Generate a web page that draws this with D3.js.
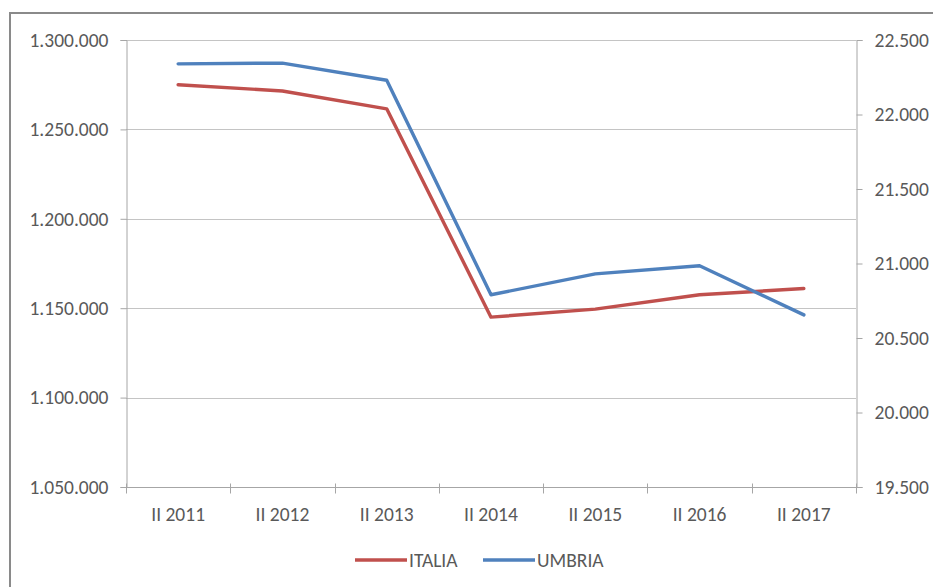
<!DOCTYPE html>
<html>
<head>
<meta charset="utf-8">
<script src="https://cdn.jsdelivr.net/npm/d3@7"></script>
<style>
  html, body { margin: 0; padding: 0; background: #ffffff; }
  svg { display: block; }
  text { font-family: Carlito, Calibri, "Open Sans", Lato, sans-serif; fill: #595959; }
</style>
</head>
<body>
<svg id="chart" width="933" height="587"></svg>
<script>
// Quarterly values, second quarter of each year
const categories = ["II 2011", "II 2012", "II 2013", "II 2014", "II 2015", "II 2016", "II 2017"];
const italia = [1275000, 1271500, 1261500, 1145000, 1149500, 1157500, 1161000];
const umbria = [22340, 22345, 22230, 20790, 20930, 20985, 20655];
const leftTicks = [1050000, 1100000, 1150000, 1200000, 1250000, 1300000];
const rightTicks = [19500, 20000, 20500, 21000, 21500, 22000, 22500];
const seriesNames = ["ITALIA", "UMBRIA"];
const seriesColors = ["#C0504D", "#4F81BD"];

const it = d3.formatLocale({ decimal: ",", thousands: ".", grouping: [3], currency: ["€", ""] });
const fmt = it.format(",");
const FS = 19.5;

const svg = d3.select("#chart");
const plot = { left: 126, right: 856, top: 40, bottom: 487 };

const x = d3.scaleBand().domain(categories).range([plot.left, plot.right]);
const cx = c => x(c) + x.bandwidth() / 2;
const yL = d3.scaleLinear().domain([1050000, 1300000]).range([plot.bottom, plot.top]);
const yR = d3.scaleLinear().domain([19500, 22500]).range([plot.bottom, plot.top]);

// Chart frame
svg.append("path")
  .attr("d", "M10,587 V13 H933")
  .attr("fill", "none")
  .attr("stroke", "#8a8a8a")
  .attr("stroke-width", 2);

// Horizontal gridlines
svg.append("g")
  .selectAll("line")
  .data(leftTicks.filter(t => t !== 1050000))
  .join("line")
  .attr("x1", plot.left).attr("x2", plot.right)
  .attr("y1", d => Math.round(yL(d)) + 0.5).attr("y2", d => Math.round(yL(d)) + 0.5)
  .attr("stroke", "#c4c4c4").attr("stroke-width", 1);

// Left axis
const gL = svg.append("g").attr("transform", `translate(${plot.left + 0.5},0)`)
  .call(d3.axisLeft(yL).tickValues(leftTicks).tickFormat(fmt).tickSize(6).tickPadding(12));
gL.select(".domain").attr("stroke", "#a6a6a6");
gL.selectAll(".tick line").attr("stroke", "#a6a6a6");
gL.selectAll(".tick text").attr("font-size", FS).attr("fill", "#595959");

// Right axis
const gR = svg.append("g").attr("transform", `translate(${plot.right + 0.5},0)`)
  .call(d3.axisRight(yR).tickValues(rightTicks).tickFormat(fmt).tickSize(6).tickPadding(12));
gR.select(".domain").attr("stroke", "#a6a6a6");
gR.selectAll(".tick line").attr("stroke", "#a6a6a6");
gR.selectAll(".tick text").attr("font-size", FS).attr("fill", "#595959");

// Bottom axis with ticks between categories
const gB = svg.append("g").attr("transform", `translate(0,${plot.bottom + 0.5})`);
gB.append("line")
  .attr("x1", plot.left).attr("x2", plot.right)
  .attr("stroke", "#a6a6a6");
const bounds = categories.map(c => x(c)).concat([plot.right]);
gB.selectAll("line.tk").data(bounds).join("line").attr("class", "tk")
  .attr("x1", d => Math.round(d) + 0.5).attr("x2", d => Math.round(d) + 0.5)
  .attr("y1", -4).attr("y2", 6)
  .attr("stroke", "#a6a6a6");
gB.selectAll("text").data(categories).join("text")
  .attr("x", d => cx(d)).attr("y", 33)
  .attr("text-anchor", "middle")
  .attr("font-size", FS)
  .text(d => d);

// Series lines
const lineL = d3.line().x((d, i) => cx(categories[i])).y(d => yL(d));
const lineR = d3.line().x((d, i) => cx(categories[i])).y(d => yR(d));

svg.append("path").datum(italia)
  .attr("d", lineL)
  .attr("fill", "none").attr("stroke", seriesColors[0])
  .attr("stroke-width", 3.4).attr("stroke-linejoin", "round").attr("stroke-linecap", "round");

svg.append("path").datum(umbria)
  .attr("d", lineR)
  .attr("fill", "none").attr("stroke", seriesColors[1])
  .attr("stroke-width", 3.4).attr("stroke-linejoin", "round").attr("stroke-linecap", "round");

// Legend
const legendX = [355, 483];
const legend = svg.append("g").selectAll("g").data(seriesNames).join("g")
  .attr("transform", (d, i) => `translate(${legendX[i]},560)`);
legend.append("line")
  .attr("x1", 0).attr("x2", 52)
  .attr("stroke", (d, i) => seriesColors[i])
  .attr("stroke-width", 3.4);
legend.append("text")
  .attr("x", 54).attr("dy", "0.35em")
  .attr("font-size", FS)
  .text(d => d);
</script>
</body>
</html>
